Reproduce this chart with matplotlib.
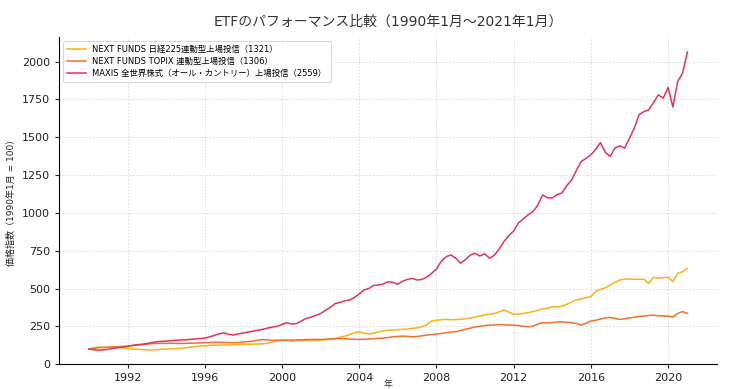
import numpy as np
import pandas as pd
import matplotlib
matplotlib.use("Agg")
import matplotlib.pyplot as plt
import matplotlib.dates as mdates

plt.rcParams['font.family'] = ['DejaVu Sans', 'Noto Sans CJK JP']

# quarterly index values (1990-01 = 100)
dates = pd.date_range("1990-01-01", "2021-01-01", freq="QS")

nikkei_1321 = [
    100, 108, 112, 110, 112, 114, 112, 108, 104, 100, 98, 96, 94, 93, 95, 98,
    100, 101, 103, 105, 108, 112, 116, 119, 121, 123, 125, 126, 127, 126, 128, 130,
    132, 131, 132, 133, 134, 138, 145, 152, 159, 155, 152, 155, 156, 158, 158, 159,
    159, 162, 165, 170, 177, 185, 195, 206, 214, 205, 199, 205, 212, 220, 225, 225,
    228, 230, 232, 236, 240, 247, 260, 285, 290, 293, 296, 293, 295, 296, 300, 305,
    310, 318, 324, 330, 335, 345, 358, 345, 329, 330, 335, 340, 347, 355, 365, 370,
    380, 378, 382, 395, 410, 424, 430, 440, 446, 480, 494, 505, 523, 540, 556, 561,
    563, 560, 562, 561, 534, 574, 568, 572, 575, 545, 600, 611, 634,
]

topix_1306 = [
    100, 104, 108, 110, 111, 113, 115, 117, 119, 122, 126, 129, 132, 135, 137, 137,
    137, 138, 137, 137, 137, 138, 139, 140, 141, 143, 144, 144, 144, 142, 141, 143,
    146, 148, 152, 158, 163, 160, 157, 158, 159, 158, 159, 160, 160, 162, 163, 163,
    163, 164, 165, 167, 170, 168, 166, 164, 163, 164, 166, 168, 170, 172, 176, 181,
    183, 185, 184, 181, 183, 187, 192, 196, 198, 203, 208, 212, 214, 222, 230, 238,
    245, 250, 255, 258, 258, 262, 260, 258, 258, 255, 250, 247, 250, 265, 274, 272,
    275, 278, 280, 276, 274, 269, 258, 270, 285, 290, 298, 305, 309, 302, 296, 300,
    305, 310, 315, 318, 322, 324, 320, 318, 318, 312, 335, 347, 336,
]

maxis_2559 = [
    100, 95, 92, 94, 98, 103, 108, 112, 118, 124, 128, 131, 136, 142, 148, 150,
    152, 155, 158, 159, 161, 163, 166, 169, 172, 180, 190, 200, 207, 196, 192, 200,
    206, 212, 218, 224, 230, 238, 245, 250, 262, 274, 265, 268, 285, 302, 310, 322,
    335, 355, 375, 400, 408, 418, 424, 440, 465, 490, 500, 520, 523, 530, 545, 540,
    528, 548, 560, 567, 556, 560, 575, 600, 630, 680, 710, 722, 700, 667, 690, 720,
    733, 715, 730, 700, 720, 760, 810, 850, 880, 933, 960, 987, 1009, 1050, 1119, 1100,
    1099, 1120, 1132, 1180, 1218, 1280, 1340, 1360, 1384, 1420, 1465, 1400, 1373, 1430, 1444, 1428,
    1494, 1560, 1649, 1670, 1682, 1730, 1781, 1759, 1830, 1700, 1870, 1924, 2065,
]

labels = [
    "NEXT FUNDS 日経225連動型上場投信（1321）",
    "NEXT FUNDS TOPIX 連動型上場投信（1306）",
    "MAXIS 全世界株式（オール・カントリー）上場投信（2559）",
]
colors = ["#fbb217", "#f0702e", "#e2345c"]

fig = plt.figure(figsize=(7.29, 3.89), dpi=100)
ax = fig.add_axes([0.081, 0.064, 0.903, 0.841])

for vals, lab, col in zip([nikkei_1321, topix_1306, maxis_2559], labels, colors):
    ax.plot(dates, vals, color=col, lw=1.1, label=lab)

ax.set_ylim(bottom=0)
ax.xaxis.set_major_locator(mdates.YearLocator(4))
ax.xaxis.set_major_formatter(mdates.DateFormatter("%Y"))

ax.set_title("ETFのパフォーマンス比較（1990年1月〜2021年1月）", fontsize=10, color="#333333", pad=8)
ax.set_xlabel("年", fontsize=6.5, color="#333333", va="center")
ax.xaxis.set_label_coords(0.5, -0.062)
ax.set_ylabel("価格指数（1990年1月 = 100）", fontsize=6.5, color="#222222", va="center")
ax.yaxis.set_label_coords(-0.072, 0.5)

ax.grid(True, color="#d8d8d8", linestyle=(0, (2, 2)), linewidth=0.6)
ax.spines["top"].set_visible(False)
ax.spines["right"].set_visible(False)
ax.tick_params(labelsize=8, length=3, width=0.8, colors="#222222")

leg = ax.legend(loc="upper left", fontsize=6, frameon=True, handlelength=2.2,
                borderpad=0.5, labelspacing=0.35, framealpha=0.9)
leg.get_frame().set_edgecolor("#cccccc")
leg.get_frame().set_linewidth(0.6)

fig.savefig("out.png", dpi=100)
